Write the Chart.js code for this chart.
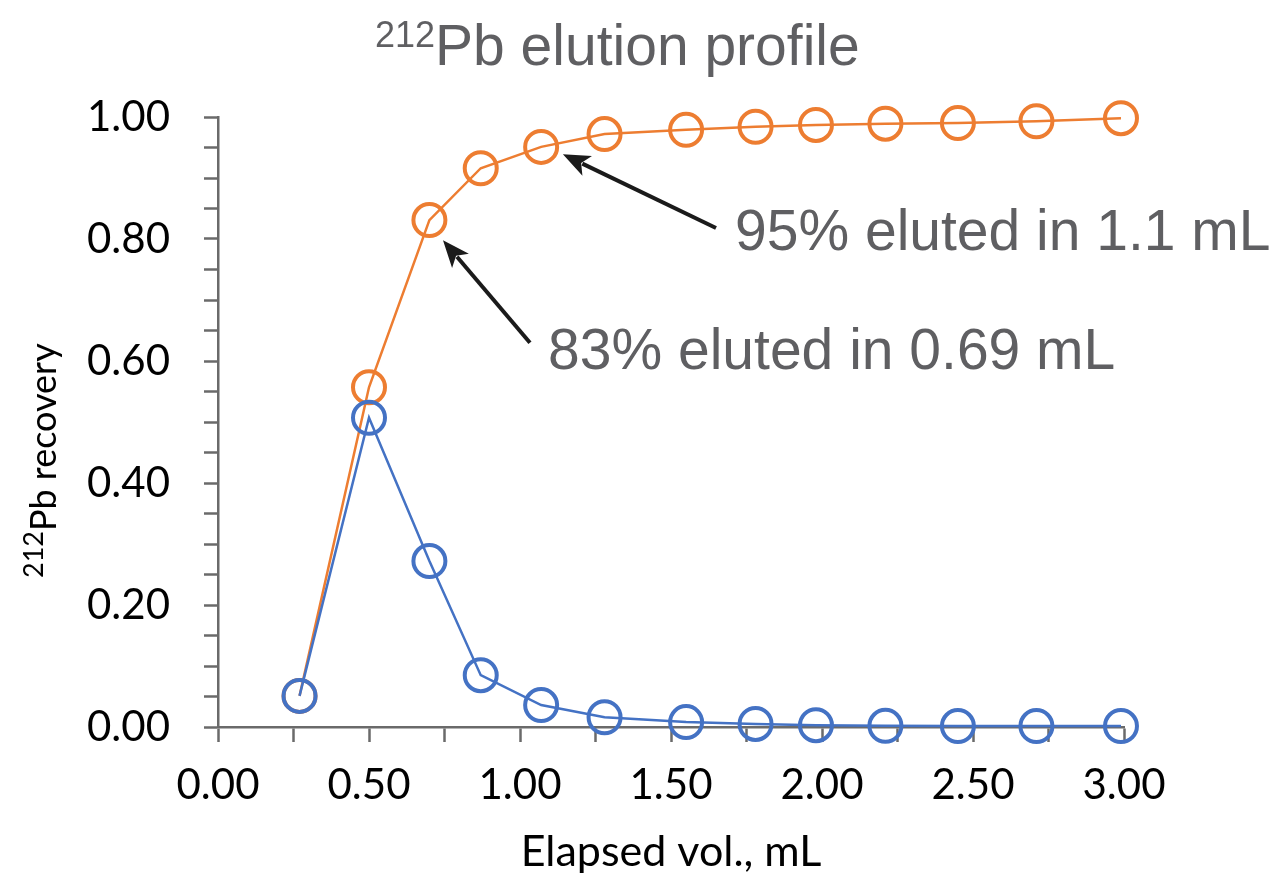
<!DOCTYPE html>
<html>
<head>
<meta charset="utf-8">
<script src="https://cdn.jsdelivr.net/npm/chart.js@4.4.1/dist/chart.umd.min.js"></script>
<style>
  html, body { margin: 0; padding: 0; background: #fff; }
  canvas { display: block; }
</style>
</head>
<body>
<canvas id="elution" width="1282" height="878"></canvas>
<script>
// data
const elapsedVol = [0.27, 0.50, 0.70, 0.87, 1.07, 1.28, 1.55, 1.78, 1.98, 2.21, 2.45, 2.71, 2.99];
const fractionRecovery = [0.051, 0.507, 0.272, 0.085, 0.036, 0.016, 0.008, 0.005, 0.003, 0.002, 0.0015, 0.0015, 0.0015];
const cumulativeRecovery = [0.051, 0.557, 0.831, 0.916, 0.951, 0.972, 0.979, 0.984, 0.987, 0.989, 0.990, 0.993, 0.998];

const xTicks = [0, 0.25, 0.5, 0.75, 1, 1.25, 1.5, 1.75, 2, 2.25, 2.5, 2.75, 3];
const xLabelled = [0, 0.5, 1, 1.5, 2, 2.5, 3];
const yTicks = [0, 0.05, 0.1, 0.15, 0.2, 0.25, 0.3, 0.35, 0.4, 0.45, 0.5, 0.55, 0.6, 0.65, 0.7, 0.75, 0.8, 0.85, 0.9, 0.95, 1];
const yLabelled = [0, 0.2, 0.4, 0.6, 0.8, 1];

// callouts, in data units
const notes = [
  { text: '95% eluted in 1.1 mL', at: [1.712, 0.782], tail: [1.649, 0.818], tip: [1.142, 0.939] },
  { text: '83% eluted in 0.69 mL', at: [1.093, 0.587], tail: [1.033, 0.630], tip: [0.745, 0.798] }
];

const ORANGE = '#ED7D31';
const BLUE = '#4472C4';
const GREY = '#5f5f62';
const AXIS = '#6a6a6a';

const isLabelled = (list, v) => list.some(t => Math.abs(t - v) < 1e-6);

function drawArrow(ctx, x1, y1, x2, y2) {
  const ang = Math.atan2(y2 - y1, x2 - x1);
  const len = 27, half = 11;
  const bx = x2 - Math.cos(ang) * len * 0.8, by = y2 - Math.sin(ang) * len * 0.8;
  ctx.strokeStyle = '#1b1b1b';
  ctx.fillStyle = '#1b1b1b';
  ctx.lineWidth = 4;
  ctx.beginPath();
  ctx.moveTo(x1, y1);
  ctx.lineTo(bx, by);
  ctx.stroke();
  const cx = x2 - Math.cos(ang) * len, cy = y2 - Math.sin(ang) * len;
  ctx.beginPath();
  ctx.moveTo(x2, y2);
  ctx.lineTo(cx + Math.sin(ang) * half, cy - Math.cos(ang) * half);
  ctx.lineTo(x2 - Math.cos(ang) * len * 0.75, y2 - Math.sin(ang) * len * 0.75);
  ctx.lineTo(cx - Math.sin(ang) * half, cy + Math.cos(ang) * half);
  ctx.closePath();
  ctx.fill();
}

function supText(ctx, x, y, sup, main, supFont, mainFont, rise) {
  ctx.font = supFont;
  ctx.fillText(sup, x, y - rise);
  const w = ctx.measureText(sup).width;
  ctx.font = mainFont;
  ctx.fillText(main, x + w, y);
}

const overlay = {
  id: 'overlay',
  afterDatasetsDraw(chart) {
    const { ctx, scales: { x, y } } = chart;
    ctx.save();
    notes.forEach(n => {
      drawArrow(ctx,
        x.getPixelForValue(n.tail[0]), y.getPixelForValue(n.tail[1]),
        x.getPixelForValue(n.tip[0]), y.getPixelForValue(n.tip[1]));
      ctx.font = '57px "Liberation Sans"';
      ctx.fillStyle = GREY;
      ctx.textBaseline = 'alphabetic';
      ctx.textAlign = 'left';
      ctx.fillText(n.text, x.getPixelForValue(n.at[0]), y.getPixelForValue(n.at[1]));
    });
    ctx.restore();
  },
  afterDraw(chart) {
    const { ctx } = chart;
    ctx.save();
    ctx.textBaseline = 'alphabetic';
    ctx.textAlign = 'left';
    // chart title
    ctx.fillStyle = GREY;
    supText(ctx, 375, 65, '212', 'Pb elution profile', '36px "Liberation Sans"', '57px "Liberation Sans"', 18);
    // y axis title
    ctx.fillStyle = '#000';
    ctx.translate(56, 578);
    ctx.rotate(-Math.PI / 2);
    supText(ctx, 0, 0, '212', 'Pb recovery', '27px Lato', '36px Lato', 13);
    ctx.restore();
  }
};

const pts = ys => elapsedVol.map((v, i) => ({ x: v, y: ys[i] }));

const series = (label, ys, color) => ({
  label,
  data: pts(ys),
  clip: false,
  borderColor: color,
  borderWidth: 2.5,
  pointRadius: 16,
  pointBorderWidth: 4,
  pointBorderColor: color,
  pointBackgroundColor: 'rgba(0,0,0,0)',
  pointHoverRadius: 16
});

new Chart(document.getElementById('elution'), {
  type: 'line',
  data: {
    datasets: [
      series('Fraction', fractionRecovery, BLUE),
      series('Cumulative', cumulativeRecovery, ORANGE)
    ]
  },
  options: {
    responsive: false,
    animation: false,
    events: [],
    layout: { padding: { left: 0, right: 158, top: 117, bottom: 0 } },
    plugins: { legend: { display: false }, tooltip: { enabled: false } },
    scales: {
      x: {
        type: 'linear',
        min: 0,
        max: 3,
        afterBuildTicks: s => { s.ticks = xTicks.map(v => ({ value: v })); },
        afterFit: s => { s.height = 151; },
        border: { display: true, color: AXIS, width: 2.5 },
        grid: { drawOnChartArea: false, tickLength: 15, tickColor: AXIS, tickWidth: 2.5 },
        ticks: {
          autoSkip: false,
          maxRotation: 0,
          padding: 18,
          color: '#000',
          font: { family: 'Lato', size: 42 },
          callback: v => isLabelled(xLabelled, v) ? v.toFixed(2) : ''
        },
        title: {
          display: true,
          text: 'Elapsed vol., mL',
          color: '#000',
          font: { family: 'Lato', size: 43 },
          padding: { top: 0, bottom: 0 }
        }
      },
      y: {
        min: 0,
        max: 1,
        afterBuildTicks: s => { s.ticks = yTicks.map(v => ({ value: v })); },
        afterFit: s => { s.width = 218; },
        border: { display: true, color: AXIS, width: 2.5 },
        grid: { drawOnChartArea: false, tickLength: 14, tickColor: AXIS, tickWidth: 2.5 },
        ticks: {
          autoSkip: false,
          padding: 34,
          color: '#000',
          font: { family: 'Lato', size: 42 },
          callback: v => isLabelled(yLabelled, v) ? v.toFixed(2) : ''
        }
      }
    }
  },
  plugins: [overlay]
});
</script>
</body>
</html>
